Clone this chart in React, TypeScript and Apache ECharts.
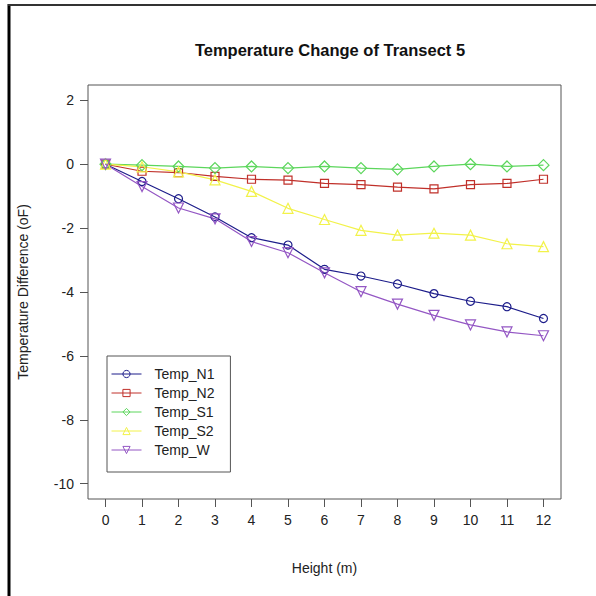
import React, { useEffect, useRef } from "react";
import * as echarts from "echarts";

const heights = [0, 1, 2, 3, 4, 5, 6, 7, 8, 9, 10, 11, 12];
const tempN1 = [0, -0.54, -1.08, -1.65, -2.3, -2.53, -3.29, -3.5, -3.75, -4.05, -4.29, -4.46, -4.83];
const tempN2 = [0, -0.22, -0.26, -0.38, -0.47, -0.5, -0.6, -0.64, -0.72, -0.77, -0.64, -0.6, -0.47];
const tempS1 = [0, -0.03, -0.07, -0.12, -0.07, -0.12, -0.07, -0.12, -0.16, -0.07, 0, -0.07, -0.03];
const tempS2 = [0, -0.08, -0.24, -0.49, -0.85, -1.38, -1.73, -2.07, -2.22, -2.16, -2.22, -2.49, -2.58];
const tempW = [0, -0.7, -1.37, -1.71, -2.42, -2.77, -3.4, -3.99, -4.38, -4.73, -5.03, -5.25, -5.37];
const xTicks = [0, 1, 2, 3, 4, 5, 6, 7, 8, 9, 10, 11, 12];
const yTicks = [-10, -8, -6, -4, -2, 0, 2];

const seriesDefs = [
  { name: "Temp_N1", data: tempN1, color: "#1c1c8a", symbol: "circle", size: 8, rotate: 0 },
  { name: "Temp_N2", data: tempN2, color: "#c0302a", symbol: "rect", size: 8, rotate: 0 },
  { name: "Temp_S1", data: tempS1, color: "#5cd65c", symbol: "diamond", size: 11, rotate: 0 },
  { name: "Temp_S2", data: tempS2, color: "#f2f24a", symbol: "triangle", size: 10, rotate: 0 },
  { name: "Temp_W", data: tempW, color: "#9457c4", symbol: "triangle", size: 10, rotate: 180 },
];

const FONT = "'Liberation Sans', Arial, sans-serif";

export default function App() {
  const ref = useRef<HTMLDivElement>(null);
  useEffect(() => {
    if (!ref.current) return;
    const chart = echarts.init(ref.current, undefined, { renderer: "svg" });
    chart.setOption({
      animation: false,
      backgroundColor: "#ffffff",
      textStyle: { fontFamily: FONT },
      title: {
        text: "Temperature Change of Transect 5",
        left: 325,
        textAlign: "center",
        top: 36,
        textStyle: { fontSize: 16.5, fontWeight: "bold", color: "#111", fontFamily: FONT },
      },
      grid: {
        left: 88,
        top: 85,
        right: 35,
        bottom: 97,
        show: true,
        borderColor: "#555",
        borderWidth: 1,
        backgroundColor: "transparent",
      },
      legend: {
        orient: "vertical",
        left: 107,
        top: 356,
        padding: [11, 16, 15, 4],
        itemWidth: 30,
        itemHeight: 9,
        itemGap: 5,
        borderColor: "#555",
        borderWidth: 1,
        backgroundColor: "#fff",
        lineStyle: { width: 1 },
        itemStyle: { borderWidth: 1 },
        textStyle: { fontSize: 14, color: "#222", fontFamily: FONT, lineHeight: 14, padding: [0, 0, 0, 8] },
        data: seriesDefs.map((s) => s.name),
      },
      xAxis: {
        type: "value",
        min: -0.48,
        max: 12.48,
        name: "Height (m)",
        nameLocation: "middle",
        nameGap: 62,
        nameTextStyle: { fontSize: 14, color: "#222", fontFamily: FONT },
        axisLine: { show: false, onZero: false },
        splitLine: { show: false },
        axisTick: { show: true, length: 8, inside: false, customValues: xTicks, lineStyle: { color: "#555" } },
        axisLabel: { customValues: xTicks, fontSize: 14, color: "#222", margin: 14, fontFamily: FONT },
      },
      yAxis: {
        type: "value",
        min: -10.48,
        max: 2.48,
        name: "Temperature Difference (oF)",
        nameLocation: "middle",
        nameGap: 58,
        nameTextStyle: { fontSize: 14, color: "#222", fontFamily: FONT },
        axisLine: { show: false, onZero: false },
        splitLine: { show: false },
        axisTick: { show: true, length: 8, inside: false, customValues: yTicks, lineStyle: { color: "#555" } },
        axisLabel: { customValues: yTicks, fontSize: 14, color: "#222", margin: 14, fontFamily: FONT },
      },
      series: seriesDefs.map((s) => ({
        name: s.name,
        type: "line",
        data: heights.map((h, i) => [h, s.data[i]]),
        symbol: s.symbol,
        symbolSize: s.size,
        symbolRotate: s.rotate,
        showAllSymbol: true,
        lineStyle: { color: s.color, width: 1.2 },
        itemStyle: { color: "rgba(255,255,255,0)", borderColor: s.color, borderWidth: 1.2 },
        emphasis: { disabled: true },
      })),
      graphic: [
        { type: "line", shape: { x1: 9, y1: 4, x2: 9, y2: 596 }, style: { stroke: "#000", lineWidth: 3 } },
        { type: "line", shape: { x1: 8, y1: 5, x2: 596, y2: 5 }, style: { stroke: "#333", lineWidth: 2 } },
      ],
    });
    return () => chart.dispose();
  }, []);
  return (
    <div
      ref={ref}
      style={{ position: "fixed", left: 0, top: 0, width: 596, height: 596 }}
    />
  );
}
